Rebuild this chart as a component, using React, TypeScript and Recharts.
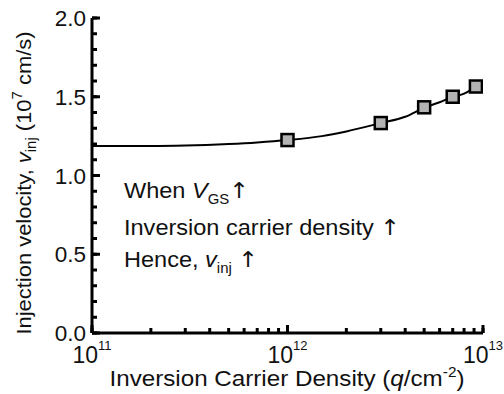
import React from "react";
import { ComposedChart, Line, Scatter, XAxis, YAxis } from "recharts";

// fitted curve
const curveDensity = [1e11, 2e11, 3e11, 5e11, 7e11, 1e12, 1.5e12, 2e12, 3e12, 4e12, 5e12, 6e12, 7e12, 8e12, 9e12, 1e13];
const curveVelocity = [1.187, 1.187, 1.19, 1.2, 1.21, 1.225, 1.25, 1.28, 1.333, 1.373, 1.43, 1.465, 1.5, 1.52, 1.555, 1.575];

// measured points (squares)
const markerDensity = [1e12, 3e12, 5e12, 7e12, 9.2e12];
const markerVelocity = [1.225, 1.333, 1.433, 1.5, 1.565];

// tick labels
const xMajorTicks = [1e11, 1e12, 1e13];
const xMajorExponents = ["11", "12", "13"];
const xMinorTicks = [2e11, 3e11, 4e11, 5e11, 6e11, 7e11, 8e11, 9e11, 2e12, 3e12, 4e12, 5e12, 6e12, 7e12, 8e12, 9e12];
const yMajorTicks = [0, 0.5, 1.0, 1.5, 2.0];
const yMinorTicks = [0.1, 0.2, 0.3, 0.4, 0.6, 0.7, 0.8, 0.9, 1.1, 1.2, 1.3, 1.4, 1.6, 1.7, 1.8, 1.9];

const xTicks = [...xMajorTicks, ...xMinorTicks];
const yTicks = [...yMajorTicks, ...yMinorTicks];

const curveData = curveDensity.map((x, i) => ({ x, y: curveVelocity[i] }));
const markerData = markerDensity.map((x, i) => ({ x, y: markerVelocity[i] }));

const FONT = "'Liberation Sans', Arial, Helvetica, sans-serif";
const ARROW_FONT = "'DejaVu Sans', sans-serif";
const INK = "#111";
const frame = { stroke: "#000", strokeWidth: 3 };
const MAJOR = 8;

// built-in tick lines are the short (minor) ones; majors get a longer line here
function BottomTick({ x, y, payload }: any) {
  const i = xMajorTicks.indexOf(payload.value);
  if (i < 0) return <g />;
  return (
    <g>
      <path d={`M${x},${y}V${y - MAJOR}`} stroke="#000" strokeWidth={3} />
      <text x={x} y={y + 30} textAnchor="middle" fontFamily={FONT} fontSize={23} fill={INK}>
        <tspan>10</tspan>
        <tspan dy={-13} fontSize={13}>{xMajorExponents[i]}</tspan>
      </text>
    </g>
  );
}

function TopTick({ x, y, payload }: any) {
  if (!xMajorTicks.includes(payload.value)) return <g />;
  return <path d={`M${x},${y}V${y + MAJOR}`} stroke="#000" strokeWidth={3} />;
}

function LeftTick({ x, y, payload }: any) {
  if (!yMajorTicks.includes(payload.value)) return <g />;
  return (
    <g>
      <path d={`M${x},${y}H${x + MAJOR}`} stroke="#000" strokeWidth={3} />
      <text x={x - 6} y={y + 8} textAnchor="end" fontFamily={FONT} fontSize={22.5} fill={INK}>
        {payload.value.toFixed(1)}
      </text>
    </g>
  );
}

function RightTick({ x, y, payload }: any) {
  if (!yMajorTicks.includes(payload.value)) return <g />;
  return <path d={`M${x},${y}H${x - MAJOR}`} stroke="#000" strokeWidth={3} />;
}

function SquareMarker({ cx, cy }: any) {
  return <rect x={cx - 6} y={cy - 6} width={12} height={12} fill="#b3b3b3" stroke="#000" strokeWidth={2.5} />;
}

function Annotations() {
  return (
    <g fontFamily={FONT} fill={INK}>
      <text transform="translate(124 198) scale(1.07 1)" fontSize={22}>
        <tspan>When </tspan>
        <tspan fontStyle="italic">V</tspan>
        <tspan dy={6} fontSize={14}>GS</tspan>
        <tspan dy={-6} fontFamily={ARROW_FONT} fontSize={22}>↑</tspan>
      </text>
      <text transform="translate(124 235) scale(1.07 1)" fontSize={22}>
        <tspan>Inversion carrier density </tspan>
        <tspan fontFamily={ARROW_FONT}>↑</tspan>
      </text>
      <text transform="translate(124 267) scale(1.07 1)" fontSize={22}>
        <tspan>Hence, </tspan>
        <tspan fontStyle="italic">v</tspan>
        <tspan dy={6} fontSize={14}>inj</tspan>
        <tspan dy={-6}> </tspan>
        <tspan fontFamily={ARROW_FONT}>↑</tspan>
      </text>
      <text transform="translate(287 386) scale(1.1 1)" fontSize={22} textAnchor="middle">
        <tspan>Inversion Carrier Density (</tspan>
        <tspan fontStyle="italic">q</tspan>
        <tspan>/cm</tspan>
        <tspan dy={-9} fontSize={14}>-2</tspan>
        <tspan dy={9}>)</tspan>
      </text>
      <text transform="translate(31 183) rotate(-90) scale(1.07 1)" fontSize={20.5} textAnchor="middle">
        <tspan>Injection velocity, </tspan>
        <tspan fontStyle="italic">v</tspan>
        <tspan dy={5} fontSize={14}>inj</tspan>
        <tspan dy={-5}> (10</tspan>
        <tspan dy={-9} fontSize={14}>7</tspan>
        <tspan dy={9}> cm/s)</tspan>
      </text>
    </g>
  );
}

export default function App() {
  return (
    <div style={{ position: "absolute", left: 0, top: 0, width: 504, height: 394, background: "#fff" }}>
      <ComposedChart width={504} height={394} margin={{ top: 18, right: 21, bottom: 0, left: 0 }}>
        <XAxis
          dataKey="x"
          type="number"
          scale="log"
          domain={[1e11, 1e13]}
          allowDataOverflow
          ticks={xTicks}
          interval={0}
          height={61}
          tickSize={-5}
          tickMargin={5}
          tickLine={frame}
          tick={<BottomTick />}
          axisLine={frame}
        />
        <XAxis
          xAxisId="top"
          orientation="top"
          dataKey="x"
          type="number"
          scale="log"
          domain={[1e11, 1e13]}
          allowDataOverflow
          ticks={xTicks}
          interval={0}
          height={0}
          tickSize={-5}
          tickMargin={5}
          tickLine={frame}
          tick={<TopTick />}
          axisLine={frame}
        />
        <YAxis
          type="number"
          domain={[0, 2]}
          allowDataOverflow
          ticks={yTicks}
          interval={0}
          width={92}
          tickSize={-5}
          tickMargin={5}
          tickLine={frame}
          tick={<LeftTick />}
          axisLine={frame}
        />
        <YAxis
          yAxisId="right"
          orientation="right"
          type="number"
          domain={[0, 2]}
          allowDataOverflow
          ticks={yTicks}
          interval={0}
          width={0}
          tickSize={-5}
          tickMargin={5}
          tickLine={frame}
          tick={<RightTick />}
          axisLine={frame}
        />
        <Line
          data={curveData}
          dataKey="y"
          type="monotone"
          stroke="#000"
          strokeWidth={2}
          dot={false}
          isAnimationActive={false}
        />
        <Scatter data={markerData} dataKey="y" shape={<SquareMarker />} isAnimationActive={false} />
        <Annotations />
      </ComposedChart>
    </div>
  );
}
